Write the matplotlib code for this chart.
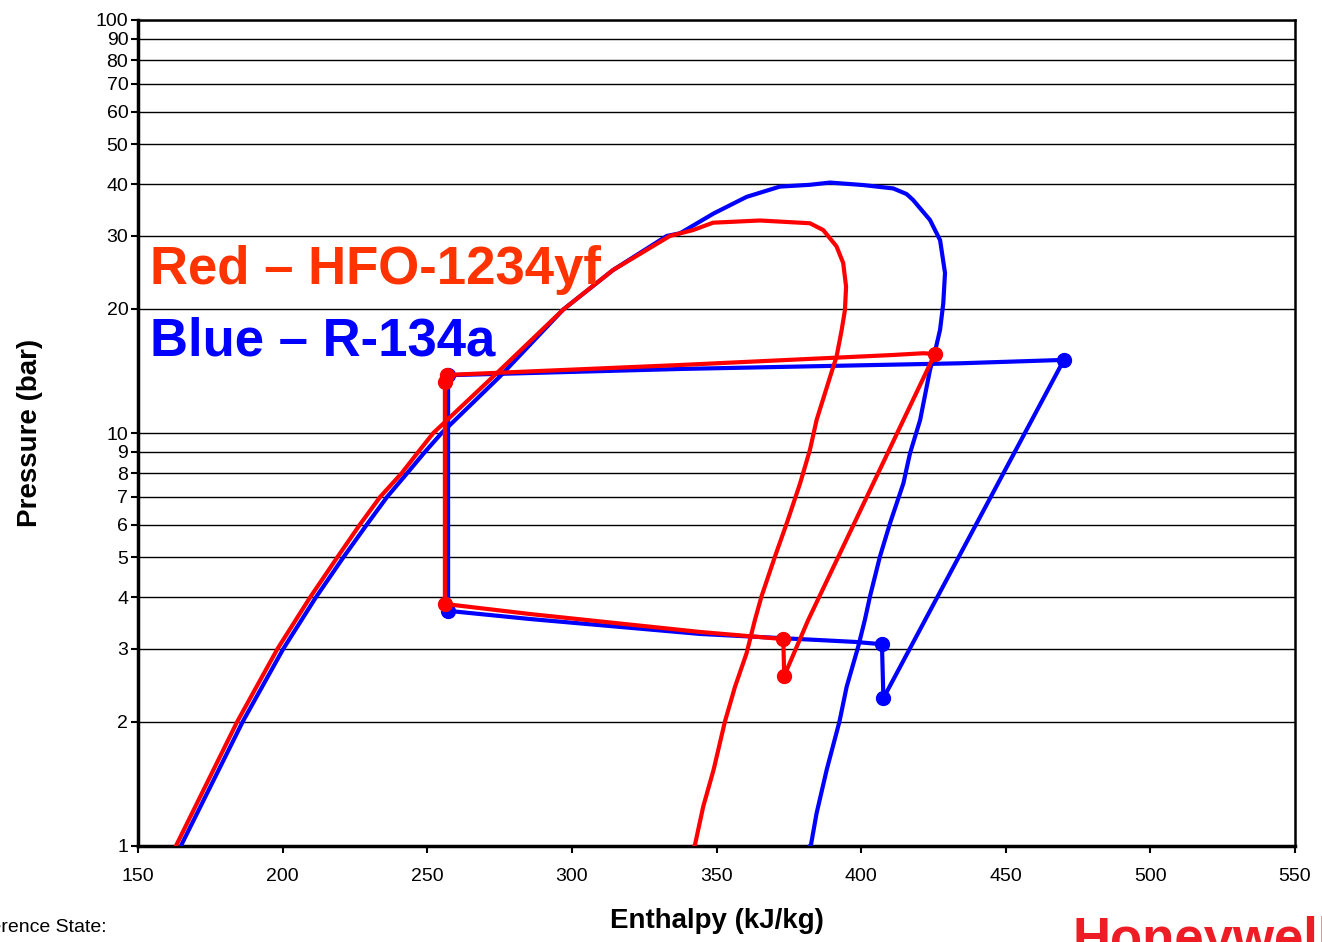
import matplotlib
matplotlib.use("Agg")
import matplotlib.pyplot as plt
from matplotlib.ticker import FixedLocator, NullLocator

plt.rcParams['font.family'] = ['Liberation Sans', 'DejaVu Sans']

# ---- Data (enthalpy kJ/kg, pressure bar) ----
# R-134a saturation dome
r134a_dome_h = [164.8, 186.2, 200.2, 211.5, 221.0, 229.1, 236.1, 243.1, 249.2, 255.0,
                275.1, 297.0, 314.2, 332.8, 337.4, 349.0, 360.4, 371.9, 382.3, 389.2, 400.6,
                411.1, 415.7, 417.9, 423.8, 427.3, 429.0, 428.4, 427.3, 425.5, 423.8, 420.4,
                416.9, 414.6, 410.0, 406.5, 403.1, 401.3, 399.0, 395.0, 392.5, 388.1,
                384.6, 382.7, 382.3]
r134a_dome_p = [1.0, 2.0, 3.0, 4.0, 5.0, 6.0, 7.0, 8.0, 9.0, 10.0,
                13.7, 19.9, 24.8, 30.0, 30.45, 34.0, 37.3, 39.5, 39.9, 40.4, 39.85,
                39.1, 37.9, 36.7, 32.8, 29.3, 24.4, 20.6, 17.8, 15.7, 14.2, 10.75,
                8.93, 7.55, 6.05, 5.02, 4.03, 3.53, 3.04, 2.43, 2.0, 1.53,
                1.20, 1.01, 1.0]

# HFO-1234yf saturation dome
hfo_dome_h = [163.1, 184.3, 198.2, 209.5, 218.9, 226.7, 233.7, 241.2, 246.9, 252.1,
              274.0, 297.0, 314.2, 333.9, 341.9, 348.8, 365.0, 382.3, 386.9, 391.5,
              393.8, 394.8, 394.4, 393.3, 391.5, 390.0, 384.6, 382.3, 378.9, 374.3,
              370.2, 365.6, 363.3, 360.4, 356.4, 352.9, 349.0, 345.4, 342.6, 342.3]
hfo_dome_p = [1.0, 2.0, 3.0, 4.0, 5.0, 6.0, 7.0, 8.0, 9.0, 10.0,
              13.95, 19.9, 24.8, 30.0, 31.0, 32.3, 32.7, 32.2, 31.0, 28.3,
              25.8, 22.6, 19.85, 17.8, 15.3, 14.2, 10.75, 9.10, 7.55, 6.05,
              5.02, 4.03, 3.53, 2.93, 2.43, 2.0, 1.53, 1.245, 1.01, 1.0]

# R-134a refrigeration cycle
r134a_cycle_h = [257.2, 257.2, 285.5, 344.3, 397.9, 407.2, 407.7, 470.1, 434.2, 337.4, 257.2]
r134a_cycle_p = [13.8, 3.71, 3.545, 3.262, 3.12, 3.08, 2.28, 15.03, 14.75, 14.29, 13.8]
r134a_points_h = [257.2, 257.2, 407.2, 407.7, 470.1]
r134a_points_p = [13.8, 3.71, 3.08, 2.28, 15.03]

# HFO-1234yf refrigeration cycle
hfo_cycle_h = [256.7, 256.1, 256.1, 285.5, 344.3, 373.1, 373.4, 381.7, 425.5, 421.5, 411.1, 337.4, 256.7]
hfo_cycle_p = [13.82, 13.29, 3.855, 3.645, 3.298, 3.17, 2.58, 3.525, 15.54, 15.6, 15.45, 14.61, 13.82]
hfo_points_h = [256.7, 256.1, 256.1, 373.1, 373.4, 425.5]
hfo_points_p = [13.82, 13.29, 3.855, 3.17, 2.58, 15.54]

x_ticks = [150, 200, 250, 300, 350, 400, 450, 500, 550]
y_ticks = [1, 2, 3, 4, 5, 6, 7, 8, 9, 10, 20, 30, 40, 50, 60, 70, 80, 90, 100]

BLUE = '#0000FF'
RED = '#FF0000'

fig = plt.figure(figsize=(13.22, 9.42), dpi=100)
ax = fig.add_axes([138/1322, 1 - 846/942, (1295-138)/1322, (846-20)/942])
ax.set_yscale('log')
ax.set_xlim(150, 550)
ax.set_ylim(1, 100)

for v in y_ticks:
    ax.axhline(v, color='black', lw=1.0, zorder=1)

lw = 3.0
ax.plot(r134a_dome_h, r134a_dome_p, color=BLUE, lw=lw, zorder=3, solid_capstyle='round', solid_joinstyle='round')
ax.plot(r134a_cycle_h, r134a_cycle_p, color=BLUE, lw=lw, zorder=3, solid_joinstyle='round')
ax.plot(r134a_points_h, r134a_points_p, 'o', color=BLUE, ms=10, zorder=4)
ax.plot(hfo_dome_h, hfo_dome_p, color=RED, lw=lw, zorder=5, solid_capstyle='round', solid_joinstyle='round')
ax.plot(hfo_cycle_h, hfo_cycle_p, color=RED, lw=lw, zorder=5, solid_joinstyle='round')
ax.plot(hfo_points_h, hfo_points_p, 'o', color=RED, ms=10, zorder=6)

ax.yaxis.set_major_locator(FixedLocator(y_ticks))
ax.yaxis.set_minor_locator(NullLocator())
ax.set_yticklabels([str(v) for v in y_ticks])
ax.xaxis.set_major_locator(FixedLocator(x_ticks))
ax.set_xticklabels([str(v) for v in x_ticks])
ax.tick_params(axis='both', direction='out', length=5, width=1.5, labelsize=14, colors='black')
ax.tick_params(axis='y', pad=2)
ax.tick_params(axis='x', pad=11)

for s in ['left', 'bottom']:
    ax.spines[s].set_linewidth(2.5)
for s in ['top', 'right']:
    ax.spines[s].set_linewidth(1.8)

ax.set_xlabel('Enthalpy (kJ/kg)', fontsize=20, fontweight='bold')
ax.xaxis.set_label_coords(0.5, -0.075)
ax.set_ylabel('Pressure (bar)', fontsize=20, fontweight='bold')
ax.yaxis.set_label_coords(-0.082, 0.5)

fig.text(150/1322, 1 - 284/942, 'Red \u2013 HFO-1234yf', color='#FF3300', fontsize=38,
         fontweight='bold', ha='left', va='baseline')
fig.text(150/1322, 1 - 355/942, 'Blue \u2013 R-134a', color='#0000FF', fontsize=38,
         fontweight='bold', ha='left', va='baseline')

fig.text(107/1322, 1 - 928/942, 'Reference State:', fontsize=14, ha='right', va='center')
fig.text(1073/1322, 1 - 955/942, 'Honeywell', fontsize=38, fontweight='bold', color='#EE1C25',
         ha='left', va='baseline')

fig.savefig('out.png', dpi=100)
